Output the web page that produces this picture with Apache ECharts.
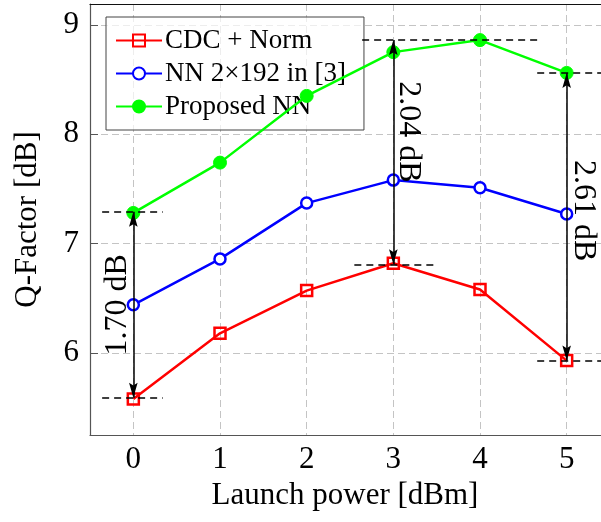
<!DOCTYPE html>
<html>
<head>
<meta charset="utf-8">
<script src="https://cdn.jsdelivr.net/npm/echarts@6/dist/echarts.min.js"></script>
<style>
  html, body { margin: 0; padding: 0; background: #fff; overflow: hidden; }
  #main { width: 620px; height: 522px; }
</style>
</head>
<body>
<div id="main"></div>
<script>
// launch power [dBm]
var powers = [0, 1, 2, 3, 4, 5];
var tickLabels = ['0', '1', '2', '3', '4', '5'];
// Q-factor [dB]
var cdcNorm = [5.58, 6.18, 6.57, 6.82, 6.58, 5.93];
var nn2x192 = [6.44, 6.86, 7.37, 7.58, 7.51, 7.27];
var proposed = [7.28, 7.74, 8.35, 8.75, 8.86, 8.56];
// gain annotations: x, top, bottom
var gainX = [0, 3, 5];
var gainTop = [7.29, 8.86, 8.56];
var gainBottom = [5.59, 6.81, 5.93];
var gainText = ['1.70 dB', '2.04 dB', '2.61 dB'];
var gainTextX = [-0.18, 3.17, 5.19];
var gainTextY = [6.44, 8.02, 7.30];
var gainTextRot = [90, -90, -90];
// dashed helper lines: [x start, y, x end]
var helperLines = [
    [-0.36, 7.29, 0.34],
    [-0.36, 5.59, 0.34],
    [2.64, 8.86, 4.66],
    [2.55, 6.81, 3.51],
    [4.66, 8.56, 5.5],
    [4.66, 5.93, 5.5]
];

var font = '"Liberation Serif", "Times New Roman", serif';

// narrow arrow head, tip in the centre of its box
var arrowHead = 'path://M0,0M28,28M14,14L18,28L14,25.5L10,28Z';

function pairs(xs, ys) {
    return xs.map(function (x, i) { return [x, ys[i]]; });
}

var chart = echarts.init(document.getElementById('main'));

var gridDash = { color: '#c4c4c4', width: 1, type: [7, 4] };

var option = {
    animation: false,
    textStyle: { fontFamily: font, color: '#000' },
    grid: { left: 90, top: 4, width: 520, height: 431, containLabel: false },
    legend: {
        orient: 'vertical',
        left: 106,
        top: 17,
        padding: [10, 18, 10, 9],
        itemWidth: 46,
        itemHeight: 15,
        itemGap: 6,
        backgroundColor: 'rgba(255,255,255,0.7)',
        borderColor: '#444',
        borderWidth: 1,
        borderRadius: 0,
        textStyle: { fontFamily: font, fontSize: 27, color: '#000', padding: [0, 0, 0, -2] },
        data: ['CDC + Norm', 'NN 2\u00d7192 in [3]', 'Proposed NN']
    },
    xAxis: [
        {
            type: 'category',
            data: tickLabels,
            boundaryGap: true,
            position: 'bottom',
            name: 'Launch power [dBm]',
            nameLocation: 'middle',
            nameGap: 41,
            nameTextStyle: { fontFamily: font, fontSize: 31, color: '#000', padding: [0, 10, 0, 0] },
            axisLine: { lineStyle: { color: '#555', width: 1.2 } },
            axisTick: { inside: true, length: 7, alignWithLabel: true, lineStyle: { color: '#555' } },
            axisLabel: { fontFamily: font, fontSize: 31, color: '#000', margin: 9 },
            splitLine: { show: true, alignWithLabel: true, lineStyle: gridDash }
        },
        {
            type: 'category',
            data: tickLabels,
            boundaryGap: true,
            position: 'top',
            axisLine: { lineStyle: { color: '#111', width: 1.2 } },
            axisTick: { inside: true, length: 7, alignWithLabel: true, lineStyle: { color: '#555' } },
            axisLabel: { show: false },
            splitLine: { show: false }
        },
        {
            type: 'value',
            min: -0.5,
            max: 5.5,
            show: false
        }
    ],
    yAxis: {
        type: 'value',
        min: 5.25,
        max: 9.19,
        splitNumber: 4,
        name: 'Q-Factor [dB]',
        nameLocation: 'middle',
        nameGap: 47,
        nameTextStyle: { fontFamily: font, fontSize: 31, color: '#000' },
        axisLine: { show: true, onZero: false, lineStyle: { color: '#555', width: 1.2 } },
        axisTick: { show: true, inside: true, length: 8, lineStyle: { color: '#555' } },
        axisLabel: {
            fontFamily: font, fontSize: 31, color: '#000', margin: 11,
            showMinLabel: false, showMaxLabel: false,
            formatter: function (v) { return Math.abs(v - Math.round(v)) < 1e-6 ? String(Math.round(v)) : ''; }
        },
        splitLine: { show: true, showMinLine: false, showMaxLine: false, lineStyle: gridDash }
    },
    series: [
        {
            name: 'CDC + Norm',
            type: 'line',
            xAxisIndex: 2,
            data: pairs(powers, cdcNorm),
            symbol: 'rect',
            symbolSize: 11,
            z: 5,
            lineStyle: { color: '#ff0000', width: 2.5 },
            itemStyle: { color: 'rgba(255,255,255,0)', borderColor: '#ff0000', borderWidth: 2.5 }
        },
        {
            name: 'NN 2\u00d7192 in [3]',
            type: 'line',
            xAxisIndex: 2,
            data: pairs(powers, nn2x192),
            symbol: 'circle',
            symbolSize: 11,
            z: 5,
            lineStyle: { color: '#0000ff', width: 2.5 },
            itemStyle: { color: '#ffffff', borderColor: '#0000ff', borderWidth: 2.5 }
        },
        {
            name: 'Proposed NN',
            type: 'line',
            xAxisIndex: 2,
            data: pairs(powers, proposed),
            symbol: 'circle',
            symbolSize: 13,
            z: 5,
            lineStyle: { color: '#00ff00', width: 2.5 },
            itemStyle: { color: '#00ff00', borderColor: '#00ff00', borderWidth: 1 }
        },
        {
            type: 'lines',
            coordinateSystem: 'cartesian2d',
            xAxisIndex: 2,
            z: 6,
            symbol: 'none',
            lineStyle: { color: '#000', width: 1.5, type: [7, 5], opacity: 1 },
            data: helperLines.map(function (h) { return { coords: [[h[0], h[1]], [h[2], h[1]]] }; })
        },
        {
            type: 'lines',
            coordinateSystem: 'cartesian2d',
            xAxisIndex: 2,
            z: 7,
            symbol: [arrowHead, arrowHead],
            symbolSize: 30,
            lineStyle: { color: '#000', width: 1.5, opacity: 1 },
            data: gainX.map(function (x, i) { return { coords: [[x, gainTop[i]], [x, gainBottom[i]]] }; })
        },
        {
            type: 'scatter',
            xAxisIndex: 2,
            z: 8,
            symbolSize: 1,
            itemStyle: { color: 'transparent' },
            silent: true,
            data: gainTextX.map(function (x, i) {
                return {
                    value: [x, gainTextY[i]],
                    label: {
                        show: true,
                        position: 'inside',
                        rotate: gainTextRot[i],
                        formatter: gainText[i],
                        fontFamily: font,
                        fontSize: 32,
                        color: '#000',
                        opacity: 1,
                        textBorderWidth: 0
                    }
                };
            })
        }
    ]
};

chart.setOption(option);
</script>
</body>
</html>
